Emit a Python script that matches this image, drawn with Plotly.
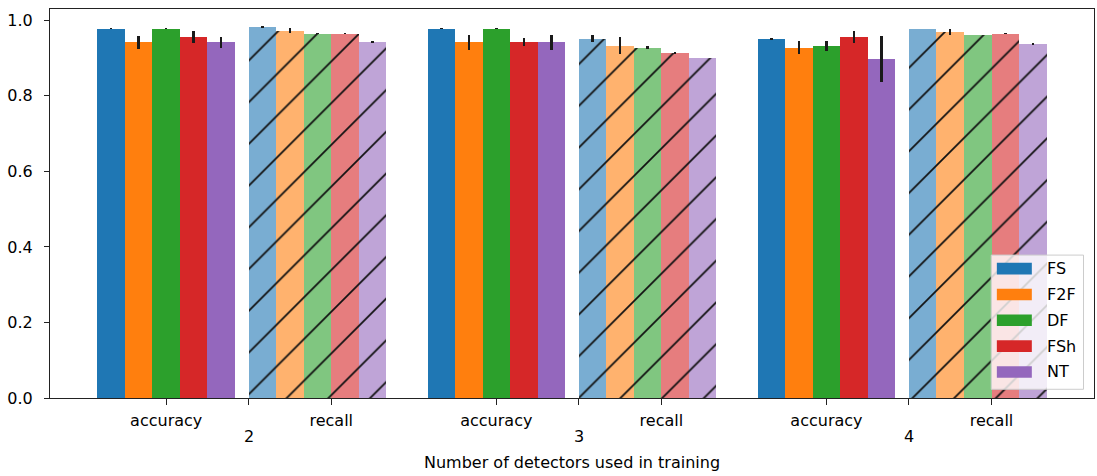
import plotly.graph_objects as go

# ---- data -------------------------------------------------------------
groups = ["2", "3", "4"]                      # number of detectors used in training
metrics = ["accuracy", "recall"]
detectors = ["FS", "F2F", "DF", "FSh", "NT"]

# mean per detector, one value per group (2, 3, 4)
accuracy_mean = [
    [0.978, 0.978, 0.951],   # FS
    [0.942, 0.942, 0.928],   # F2F
    [0.978, 0.978, 0.933],   # DF
    [0.956, 0.942, 0.956],   # FSh
    [0.942, 0.942, 0.897],   # NT
]
accuracy_err = [
    [0.002, 0.002, 0.002],
    [0.017, 0.020, 0.018],
    [0.001, 0.001, 0.013],
    [0.016, 0.011, 0.016],
    [0.014, 0.020, 0.061],
]
recall_mean = [
    [0.982, 0.951, 0.978],
    [0.973, 0.933, 0.969],
    [0.965, 0.928, 0.960],
    [0.965, 0.914, 0.965],
    [0.942, 0.901, 0.937],
]
recall_err = [
    [0.002, 0.009, 0.000],
    [0.006, 0.022, 0.007],
    [0.001, 0.003, 0.000],
    [0.002, 0.002, 0.001],
    [0.002, 0.000, 0.002],
]

# ---- style ------------------------------------------------------------
colors = ["#1f77b4", "#ff7f0e", "#2ca02c", "#d62728", "#9467bd"]


def lighten(hex_color, alpha=0.6):
    r, g, b = (int(hex_color[i:i + 2], 16) for i in (1, 3, 5))
    mix = [round(255 - alpha * (255 - c)) for c in (r, g, b)]
    return "#%02x%02x%02x" % tuple(mix)


FONT = "DejaVu Sans"
FS = 16
GROUP_STRIDE = 4          # distance between detector-count groups (axis units)
BAR_W = 1 / 3
RECALL_START = 1.0        # recall bars start here, relative to the group position

W, H = 1097, 476
M_L, M_R, M_T, M_B = 50, 2.5, 9.3, 78.3
PLOT_W = W - M_L - M_R
PLOT_H = H - M_T - M_B


def px_to_paper(px, py):
    return (px - M_L) / PLOT_W, (H - M_B - py) / PLOT_H


fig = go.Figure()

for i, name in enumerate(detectors):
    base = [GROUP_STRIDE * g for g in range(len(groups))]
    acc_x = [b + (i - 2) * BAR_W for b in base]
    rec_x = [b + RECALL_START + (i + 0.5) * BAR_W for b in base]

    fig.add_trace(go.Bar(
        x=acc_x, y=accuracy_mean[i], width=BAR_W, name=name,
        marker=dict(color=colors[i], line=dict(width=0)),
        error_y=dict(type="data", array=accuracy_err[i], color="#1a1a1a",
                     thickness=2.5, width=0),
        showlegend=False,
    ))
    fig.add_trace(go.Bar(
        x=rec_x, y=recall_mean[i], width=BAR_W, name=name,
        marker=dict(color=lighten(colors[i]), line=dict(width=0),
                    pattern=dict(shape="/", size=29.5, solidity=0.06,
                                 fgcolor="#111111", fgopacity=1)),
        error_y=dict(type="data", array=recall_err[i], color="#1a1a1a",
                     thickness=2.5, width=0),
        showlegend=False,
    ))

# ticks: accuracy / recall labels plus an unlabeled tick at each group centre
tickvals, ticktext = [], []
for g, grp in enumerate(groups):
    b = GROUP_STRIDE * g
    tickvals += [b, b + 1, b + 2]
    ticktext += [metrics[0], "", metrics[1]]

annotations = []
for g, grp in enumerate(groups):
    annotations.append(dict(
        x=GROUP_STRIDE * g + 1, y=0, xref="x", yref="paper",
        text=grp, showarrow=False, yanchor="middle", yshift=-38.6,
        font=dict(family=FONT, size=FS, color="#000000"),
    ))
annotations.append(dict(
    x=0.5, y=0, xref="paper", yref="paper",
    text="Number of detectors used in training", showarrow=False,
    yanchor="middle", yshift=-64.5,
    font=dict(family=FONT, size=FS, color="#000000"),
))

# legend box drawn in the lower-right corner
shapes = []
x0, y0 = px_to_paper(991.7, 389)
x1, y1 = px_to_paper(1084, 255)
shapes.append(dict(type="rect", xref="paper", yref="paper", x0=x0, y0=y0,
                   x1=x1, y1=y1, fillcolor="rgba(255,255,255,0.8)",
                   line=dict(color="#cccccc", width=1), layer="above"))
for i, name in enumerate(detectors):
    cy = 268.5 + 25.8 * i
    px0, py0 = px_to_paper(997.3, cy + 5.8)
    px1, py1 = px_to_paper(1032.3, cy - 5.8)
    shapes.append(dict(type="rect", xref="paper", yref="paper", x0=px0, y0=py0,
                       x1=px1, y1=py1, fillcolor=colors[i],
                       line=dict(width=0), layer="above"))
    tx, ty = px_to_paper(1045.5, cy)
    annotations.append(dict(
        x=tx, y=ty, xref="paper", yref="paper", text=name, showarrow=False,
        xanchor="left", yanchor="middle",
        font=dict(family=FONT, size=FS, color="#000000"),
    ))

fig.update_layout(
    width=W, height=H,
    margin=dict(l=M_L, r=M_R, t=M_T, b=M_B, autoexpand=False),
    paper_bgcolor="white", plot_bgcolor="white",
    barmode="overlay", bargap=0,
    font=dict(family=FONT, size=FS, color="#000000"),
    shapes=shapes, annotations=annotations,
    xaxis=dict(
        range=[-1.408, 11.242], tickmode="array", tickvals=tickvals,
        ticktext=ticktext, ticks="outside", ticklen=6, tickwidth=1,
        tickcolor="#222222", showgrid=False, zeroline=False,
        showline=True, linecolor="#222222", linewidth=1, mirror=True,
        ticklabelstandoff=2,
    ),
    yaxis=dict(
        range=[0, 1.03], tickmode="array",
        tickvals=[0, 0.2, 0.4, 0.6, 0.8, 1.0],
        ticktext=["0.0", "0.2", "0.4", "0.6", "0.8", "1.0"],
        ticks="outside", ticklen=5, tickwidth=1, tickcolor="#222222",
        showgrid=False, zeroline=False,
        showline=True, linecolor="#222222", linewidth=1, mirror=True,
        ticklabelstandoff=8,
    ),
)

fig.write_html("out.html")
